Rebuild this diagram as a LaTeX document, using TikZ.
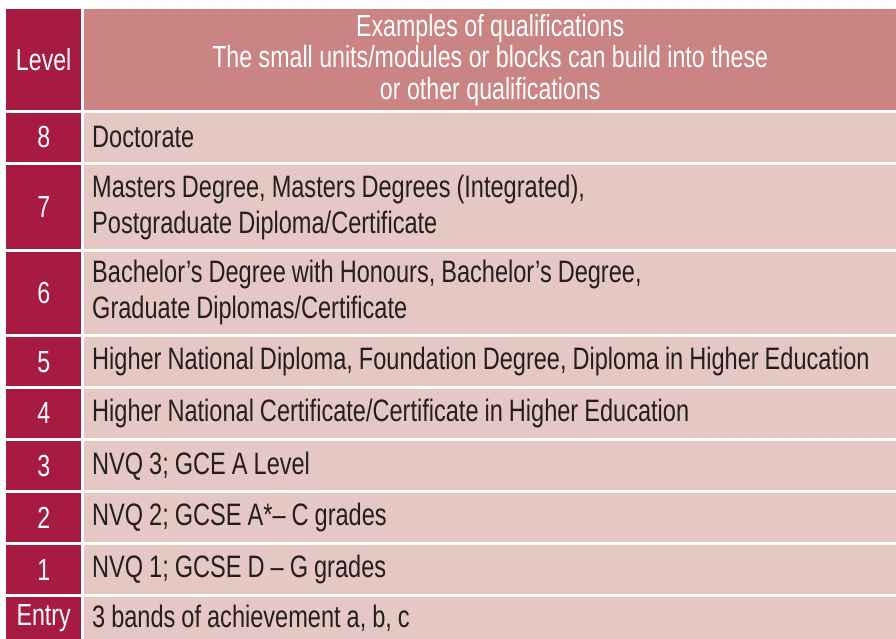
\documentclass[tikz,border=0pt]{standalone}
\usepackage{fontspec}
\setmainfont{Liberation Sans}[FakeStretch=0.76]
\definecolor{crimson}{HTML}{A71A42}
\definecolor{headpink}{HTML}{CA8483}
\definecolor{rowpink}{HTML}{E5C7C4}
\definecolor{ink}{HTML}{231F20}
\newcommand\myheadfont{\fontsize{30.5}{31.5}\selectfont\fontdimen2\font 6.5pt\relax}
\newcommand\myqualfont{\fontsize{31}{36}\selectfont\fontdimen2\font 6pt\relax}
\tikzset{
  lvcell/.style={fill=crimson, text=white, anchor=north west, inner sep=0pt,
    minimum width=75pt, align=center, font=\fontsize{30.5}{32}\selectfont},
  headcell/.style={fill=headpink, anchor=north west, inner sep=0pt, minimum width=812pt},
  headtext/.style={text=white, inner sep=0pt, align=center, font=\myheadfont},
  qualcell/.style={fill=rowpink, anchor=north west, inner sep=0pt, minimum width=812pt},
  qualtext/.style={text=ink, anchor=west, inner sep=0pt, align=left, font=\myqualfont},
}
\begin{document}
\begin{tikzpicture}[x=1pt,y=-1pt]
\useasboundingbox (0,0) rectangle (896,639);
% header
\node[lvcell, minimum height=101pt] (lh) at (6,9) {Level};
\node[headcell, minimum height=101pt] (qh) at (84,9) {};
\node[headtext] (th) at (qh.center) {Examples of qualifications\\The small units/modules or blocks can build into these\\or other qualifications};
% rows
\node[lvcell, minimum height=49.5pt] (l8) at (6,112.5) {8};
\node[qualcell, minimum height=49.5pt] (q8) at (84,112.5) {};
\node[qualtext] (t8) at ([xshift=8pt]q8.west) {Doctorate};
\node[lvcell, minimum height=84pt] (l7) at (6,165) {7};
\node[qualcell, minimum height=84pt] (q7) at (84,165) {};
\node[qualtext] (t7) at ([xshift=8pt]q7.west) {Masters Degree, Masters Degrees (Integrated),\\Postgraduate Diploma/Certificate};
\node[lvcell, minimum height=82.5pt] (l6) at (6,251.5) {6};
\node[qualcell, minimum height=82.5pt] (q6) at (84,251.5) {};
\node[qualtext] (t6) at ([xshift=8pt]q6.west) {Bachelor’s Degree with Honours, Bachelor’s Degree,\\Graduate Diplomas/Certificate};
\node[lvcell, minimum height=49pt] (l5) at (6,337) {5};
\node[qualcell, minimum height=49pt] (q5) at (84,337) {};
\node[qualtext] (t5) at ([xshift=8pt]q5.west) {Higher National Diploma, Foundation Degree, Diploma in Higher Education};
\node[lvcell, minimum height=49.5pt] (l4) at (6,388.5) {4};
\node[qualcell, minimum height=49.5pt] (q4) at (84,388.5) {};
\node[qualtext] (t4) at ([xshift=8pt]q4.west) {Higher National Certificate/Certificate in Higher Education};
\node[lvcell, minimum height=49pt] (l3) at (6,441) {3};
\node[qualcell, minimum height=49pt] (q3) at (84,441) {};
\node[qualtext] (t3) at ([xshift=8pt]q3.west) {NVQ 3; GCE A Level};
\node[lvcell, minimum height=49pt] (l2) at (6,493) {2};
\node[qualcell, minimum height=49pt] (q2) at (84,493) {};
\node[qualtext] (t2) at ([xshift=8pt]q2.west) {NVQ 2; GCSE A*– C grades};
\node[lvcell, minimum height=49pt] (l1) at (6,545) {1};
\node[qualcell, minimum height=49pt] (q1) at (84,545) {};
\node[qualtext] (t1) at ([xshift=8pt]q1.west) {NVQ 1; GCSE D – G grades};
\node[lvcell, minimum height=42pt] (le) at (6,597) {Entry};
\node[qualcell, minimum height=42pt] (qe) at (84,597) {};
\node[qualtext] (te) at ([xshift=8pt]qe.west) {3 bands of achievement a, b, c};
\end{tikzpicture}
\end{document}
